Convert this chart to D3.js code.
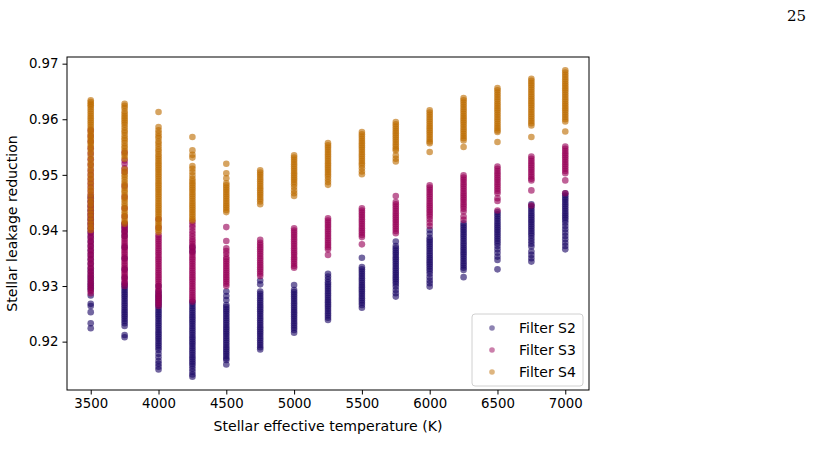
<!DOCTYPE html>
<html lang="en">
  <head>
    <meta charset="utf-8" />
    <title>Stellar leakage reduction</title>
    <script src="https://d3js.org/d3.v7.min.js"></script>
    <style>
      body {
        margin: 0;
        background: white;
      }
      text {
        font-family: "DejaVu Sans", sans-serif;
        fill: black;
      }
      .axis path,
      .axis line {
        stroke: black;
        stroke-width: 1;
      }
      .frame {
        fill: none;
        stroke: black;
        stroke-width: 1;
      }
      .pageno {
        font-family: "DejaVu Serif", "Liberation Serif", serif;
      }
    </style>
  </head>
  <body>
    <div id="chart"></div>
    <script>
      let width = 813;
      let height = 469;

      // Temperatures of the grid (K)
      let temps = [3500, 3750, 4000, 4250, 4500, 4750, 5000, 5250, 5500, 5750, 6000, 6250, 6500, 6750, 7000];

      // Filter S2 - one list of read values per temperature
      let s2Values = [
        [0.9460,0.9452,0.9444,0.9436,0.9428,0.9420,0.9412,0.9404,0.9396,0.9388,0.9380,0.9372,0.9364,0.9356,0.9348,0.9340,0.9332,0.9326,0.9320,0.9315,0.9310,0.9305,0.9301,0.9297,0.9293,0.9283,0.9268,0.9264,0.9253,0.9233,0.9224],
        [0.9412,0.9405,0.9398,0.9390,0.9370,0.9350,0.9330,0.9315,0.9305,0.9301,0.9297,0.9293,0.9289,0.9285,0.9281,0.9277,0.9273,0.9269,0.9265,0.9261,0.9257,0.9253,0.9249,0.9245,0.9241,0.9237,0.9233,0.9228,0.9212,0.9208],
        [0.9300,0.9290,0.9285,0.9281,0.9277,0.9273,0.9269,0.9265,0.9261,0.9257,0.9253,0.9249,0.9245,0.9241,0.9237,0.9233,0.9229,0.9225,0.9221,0.9217,0.9213,0.9209,0.9205,0.9201,0.9197,0.9193,0.9189,0.9185,0.9178,0.9172,0.9165,0.9160,0.9155,0.9150],
        [0.9370,0.9362,0.9272,0.9268,0.9264,0.9260,0.9256,0.9252,0.9248,0.9244,0.9240,0.9236,0.9232,0.9228,0.9224,0.9220,0.9216,0.9212,0.9208,0.9204,0.9200,0.9196,0.9192,0.9188,0.9184,0.9180,0.9176,0.9172,0.9168,0.9164,0.9160,0.9156,0.9151,0.9146,0.9141,0.9137],
        [0.9290,0.9282,0.9275,0.9266,0.9262,0.9258,0.9254,0.9250,0.9246,0.9242,0.9238,0.9234,0.9230,0.9226,0.9222,0.9218,0.9214,0.9210,0.9206,0.9202,0.9198,0.9194,0.9190,0.9186,0.9182,0.9178,0.9174,0.9170,0.9167,0.9159],
        [0.9310,0.9303,0.9290,0.9286,0.9282,0.9278,0.9274,0.9270,0.9266,0.9262,0.9258,0.9254,0.9250,0.9246,0.9242,0.9238,0.9234,0.9230,0.9226,0.9222,0.9218,0.9214,0.9210,0.9206,0.9202,0.9198,0.9194,0.9190,0.9186],
        [0.9302,0.9293,0.9289,0.9285,0.9281,0.9277,0.9273,0.9269,0.9265,0.9261,0.9257,0.9253,0.9249,0.9245,0.9241,0.9237,0.9233,0.9229,0.9225,0.9221,0.9216],
        [0.9322,0.9317,0.9312,0.9307,0.9303,0.9299,0.9295,0.9291,0.9287,0.9283,0.9279,0.9275,0.9271,0.9267,0.9263,0.9259,0.9255,0.9251,0.9247,0.9243,0.9239],
        [0.9351,0.9334,0.9330,0.9326,0.9322,0.9318,0.9314,0.9310,0.9306,0.9302,0.9298,0.9294,0.9290,0.9286,0.9282,0.9278,0.9274,0.9270,0.9266,0.9261],
        [0.9380,0.9372,0.9368,0.9364,0.9360,0.9356,0.9352,0.9348,0.9344,0.9340,0.9336,0.9332,0.9328,0.9324,0.9320,0.9316,0.9312,0.9308,0.9304,0.9299,0.9293,0.9287,0.9281],
        [0.9401,0.9394,0.9387,0.9383,0.9379,0.9375,0.9371,0.9367,0.9363,0.9359,0.9355,0.9351,0.9347,0.9343,0.9339,0.9335,0.9331,0.9327,0.9322,0.9316,0.9310,0.9305,0.9299],
        [0.9413,0.9409,0.9405,0.9401,0.9397,0.9393,0.9389,0.9385,0.9381,0.9377,0.9373,0.9369,0.9365,0.9361,0.9357,0.9353,0.9349,0.9345,0.9341,0.9337,0.9333,0.9329,0.9316],
        [0.9433,0.9429,0.9425,0.9421,0.9417,0.9413,0.9409,0.9405,0.9401,0.9397,0.9393,0.9389,0.9385,0.9381,0.9377,0.9372,0.9366,0.9360,0.9353,0.9347,0.9330],
        [0.9447,0.9443,0.9439,0.9435,0.9431,0.9427,0.9423,0.9419,0.9415,0.9411,0.9407,0.9403,0.9399,0.9395,0.9391,0.9386,0.9381,0.9376,0.9371,0.9362,0.9356,0.9350,0.9344],
        [0.9467,0.9463,0.9459,0.9455,0.9451,0.9447,0.9443,0.9439,0.9435,0.9431,0.9427,0.9423,0.9419,0.9414,0.9408,0.9402,0.9396,0.9390,0.9384,0.9378,0.9372,0.9366],
      ];

      // Filter S3
      let s3Values = [
        [0.9580,0.9570,0.9560,0.9548,0.9538,0.9528,0.9518,0.9508,0.9500,0.9492,0.9485,0.9478,0.9471,0.9464,0.9458,0.9452,0.9446,0.9441,0.9436,0.9431,0.9426,0.9421,0.9416,0.9411,0.9406,0.9401,0.9396,0.9391,0.9386,0.9381,0.9376,0.9371,0.9366,0.9361,0.9356,0.9351,0.9346,0.9341,0.9336,0.9331,0.9326,0.9321,0.9316,0.9311,0.9306,0.9301,0.9296,0.9291,0.9287],
        [0.9540,0.9526,0.9520,0.9512,0.9505,0.9480,0.9460,0.9440,0.9425,0.9413,0.9409,0.9405,0.9401,0.9397,0.9393,0.9389,0.9385,0.9381,0.9377,0.9373,0.9369,0.9365,0.9361,0.9357,0.9353,0.9349,0.9345,0.9341,0.9337,0.9333,0.9329,0.9325,0.9321,0.9317,0.9313,0.9309,0.9305,0.9300],
        [0.9420,0.9405,0.9392,0.9388,0.9384,0.9380,0.9376,0.9372,0.9368,0.9364,0.9360,0.9356,0.9352,0.9348,0.9344,0.9340,0.9336,0.9332,0.9328,0.9324,0.9320,0.9316,0.9312,0.9308,0.9304,0.9300,0.9296,0.9292,0.9288,0.9284,0.9280,0.9276,0.9272,0.9268,0.9264],
        [0.9415,0.9410,0.9405,0.9399,0.9394,0.9389,0.9384,0.9380,0.9376,0.9372,0.9368,0.9364,0.9360,0.9356,0.9352,0.9348,0.9344,0.9340,0.9336,0.9332,0.9328,0.9324,0.9320,0.9316,0.9312,0.9308,0.9304,0.9300,0.9296,0.9292,0.9288,0.9284,0.9280,0.9276,0.9272],
        [0.9406,0.9381,0.9368,0.9363,0.9358,0.9352,0.9348,0.9344,0.9340,0.9336,0.9332,0.9328,0.9324,0.9320,0.9316,0.9312,0.9308,0.9304,0.9300],
        [0.9383,0.9378,0.9374,0.9370,0.9366,0.9362,0.9358,0.9354,0.9350,0.9346,0.9342,0.9338,0.9334,0.9330,0.9326,0.9322,0.9318],
        [0.9404,0.9400,0.9396,0.9392,0.9388,0.9384,0.9380,0.9376,0.9372,0.9368,0.9364,0.9360,0.9356,0.9352,0.9348,0.9344,0.9340,0.9336,0.9333],
        [0.9422,0.9418,0.9414,0.9410,0.9406,0.9402,0.9398,0.9394,0.9390,0.9386,0.9382,0.9378,0.9374,0.9370,0.9366,0.9356],
        [0.9440,0.9436,0.9432,0.9428,0.9424,0.9420,0.9416,0.9412,0.9408,0.9404,0.9400,0.9396,0.9392,0.9388,0.9375],
        [0.9462,0.9451,0.9447,0.9443,0.9439,0.9435,0.9431,0.9427,0.9423,0.9419,0.9415,0.9411,0.9407,0.9403,0.9399,0.9395],
        [0.9481,0.9477,0.9473,0.9469,0.9465,0.9461,0.9457,0.9453,0.9449,0.9445,0.9441,0.9437,0.9433,0.9429,0.9425,0.9420,0.9414,0.9408],
        [0.9499,0.9495,0.9491,0.9487,0.9483,0.9479,0.9475,0.9471,0.9467,0.9463,0.9459,0.9455,0.9451,0.9447,0.9443,0.9439,0.9434,0.9425,0.9419],
        [0.9515,0.9511,0.9507,0.9503,0.9499,0.9495,0.9491,0.9487,0.9483,0.9479,0.9475,0.9471,0.9467,0.9458,0.9453,0.9436],
        [0.9533,0.9529,0.9525,0.9521,0.9517,0.9513,0.9509,0.9505,0.9501,0.9497,0.9493,0.9490,0.9472,0.9445],
        [0.9551,0.9547,0.9543,0.9539,0.9535,0.9531,0.9527,0.9523,0.9519,0.9515,0.9511,0.9507,0.9503,0.9490,0.9467],
      ];

      // Filter S4
      let s4Values = [
        [0.9634,0.9631,0.9628,0.9625,0.9622,0.9618,0.9614,0.9610,0.9606,0.9602,0.9598,0.9594,0.9590,0.9586,0.9582,0.9578,0.9574,0.9570,0.9566,0.9562,0.9558,0.9554,0.9550,0.9545,0.9540,0.9534,0.9528,0.9522,0.9517,0.9511,0.9505,0.9499,0.9494,0.9488,0.9482,0.9476,0.9471,0.9465,0.9459,0.9453,0.9448,0.9442,0.9436,0.9430,0.9424,0.9418,0.9412,0.9406,0.9401],
        [0.9628,0.9624,0.9620,0.9614,0.9610,0.9606,0.9602,0.9598,0.9594,0.9590,0.9585,0.9580,0.9576,0.9571,0.9566,0.9562,0.9557,0.9552,0.9548,0.9543,0.9538,0.9534,0.9529,0.9510,0.9505,0.9500,0.9496,0.9491,0.9486,0.9482,0.9477,0.9472,0.9468,0.9463,0.9458,0.9454,0.9449,0.9444,0.9440,0.9435,0.9430,0.9426,0.9421,0.9416,0.9412],
        [0.9613,0.9586,0.9580,0.9575,0.9570,0.9566,0.9560,0.9556,0.9551,0.9546,0.9542,0.9537,0.9533,0.9529,0.9525,0.9521,0.9517,0.9513,0.9509,0.9505,0.9501,0.9497,0.9493,0.9489,0.9485,0.9481,0.9477,0.9473,0.9469,0.9465,0.9461,0.9457,0.9453,0.9449,0.9445,0.9441,0.9437,0.9433,0.9429,0.9425,0.9421,0.9417,0.9413,0.9409,0.9405,0.9401,0.9397],
        [0.9568,0.9544,0.9536,0.9531,0.9516,0.9511,0.9505,0.9499,0.9493,0.9489,0.9485,0.9481,0.9477,0.9473,0.9469,0.9465,0.9461,0.9457,0.9453,0.9449,0.9445,0.9441,0.9437,0.9433,0.9429,0.9425,0.9421,0.9418],
        [0.9520,0.9503,0.9494,0.9485,0.9481,0.9477,0.9473,0.9469,0.9465,0.9461,0.9457,0.9453,0.9449,0.9445,0.9441,0.9437,0.9433],
        [0.9508,0.9504,0.9500,0.9496,0.9492,0.9488,0.9484,0.9480,0.9476,0.9472,0.9468,0.9464,0.9460,0.9456,0.9452,0.9447],
        [0.9535,0.9531,0.9527,0.9523,0.9519,0.9515,0.9511,0.9507,0.9503,0.9499,0.9495,0.9491,0.9487,0.9483,0.9478,0.9472,0.9467,0.9462],
        [0.9557,0.9553,0.9549,0.9545,0.9541,0.9537,0.9533,0.9529,0.9525,0.9521,0.9517,0.9513,0.9509,0.9505,0.9501,0.9497,0.9492,0.9487,0.9482],
        [0.9577,0.9573,0.9569,0.9565,0.9561,0.9557,0.9553,0.9549,0.9545,0.9541,0.9537,0.9533,0.9529,0.9525,0.9521,0.9517,0.9512,0.9506,0.9501],
        [0.9595,0.9591,0.9587,0.9583,0.9579,0.9575,0.9571,0.9567,0.9563,0.9559,0.9555,0.9551,0.9547,0.9544,0.9535,0.9529,0.9524],
        [0.9616,0.9612,0.9608,0.9604,0.9600,0.9596,0.9592,0.9588,0.9584,0.9580,0.9576,0.9572,0.9568,0.9564,0.9560,0.9557,0.9541],
        [0.9638,0.9634,0.9630,0.9626,0.9622,0.9618,0.9614,0.9610,0.9606,0.9602,0.9598,0.9594,0.9590,0.9586,0.9582,0.9578,0.9574,0.9570,0.9566,0.9562,0.9550],
        [0.9656,0.9652,0.9648,0.9644,0.9640,0.9636,0.9632,0.9628,0.9624,0.9620,0.9616,0.9612,0.9608,0.9604,0.9600,0.9596,0.9592,0.9588,0.9584,0.9580,0.9577,0.9559],
        [0.9673,0.9669,0.9665,0.9661,0.9657,0.9653,0.9649,0.9645,0.9641,0.9637,0.9633,0.9629,0.9625,0.9621,0.9617,0.9613,0.9609,0.9605,0.9601,0.9597,0.9593,0.9589,0.9568],
        [0.9688,0.9684,0.9680,0.9676,0.9672,0.9668,0.9664,0.9660,0.9656,0.9652,0.9648,0.9644,0.9640,0.9636,0.9632,0.9628,0.9624,0.9620,0.9616,0.9612,0.9608,0.9604,0.9600,0.9596,0.9578],
      ];

      let seriesNames = ["Filter S2", "Filter S3", "Filter S4"];
      let seriesColors = ["#1b0866", "#970057", "#bd6c00"];
      let xTicks = [3500, 4000, 4500, 5000, 5500, 6000, 6500, 7000];
      let yTicks = [0.92, 0.93, 0.94, 0.95, 0.96, 0.97];

      // Plot box (matches the figure's axes)
      let plotLeft = 67, plotTop = 57, plotRight = 589, plotBottom = 390;

      let svg = d3
        .select("#chart")
        .append("svg")
        .attr("width", width)
        .attr("height", height);

      let x = d3.scaleLinear().domain([3325, 7175]).range([plotLeft, plotRight]);
      let y = d3.scaleLinear().domain([0.9113, 0.9712]).range([plotBottom, plotTop]);

      // Flatten into points, S2 first so S4 ends up on top
      let allSeries = [s2Values, s3Values, s4Values];
      let points = [];
      allSeries.forEach(function (series, si) {
        series.forEach(function (list, ti) {
          list.forEach(function (v) {
            points.push({ s: si, t: temps[ti], v: v });
          });
        });
      });

      svg
        .append("g")
        .selectAll("circle")
        .data(points)
        .enter()
        .append("circle")
        .attr("cx", function (d) {
          return x(d.t);
        })
        .attr("cy", function (d) {
          return y(d.v);
        })
        .attr("r", 3.3)
        .attr("fill", function (d) {
          return seriesColors[d.s];
        })
        .attr("fill-opacity", 0.62);

      // Axes
      let xAxis = svg
        .append("g")
        .attr("class", "axis")
        .attr("transform", "translate(0," + plotBottom + ")")
        .call(d3.axisBottom(x).tickValues(xTicks).tickSize(4.5).tickPadding(4).tickFormat(d3.format("d")));
      xAxis.select(".domain").remove();
      xAxis.selectAll("text").attr("font-size", 13.3).attr("font-family", "DejaVu Sans");

      let yAxis = svg
        .append("g")
        .attr("class", "axis")
        .attr("transform", "translate(" + plotLeft + ",0)")
        .call(d3.axisLeft(y).tickValues(yTicks).tickSize(4.5).tickPadding(4).tickFormat(d3.format(".2f")));
      yAxis.select(".domain").remove();
      yAxis.selectAll("text").attr("font-size", 13.3).attr("font-family", "DejaVu Sans");

      svg
        .append("rect")
        .attr("class", "frame")
        .attr("x", plotLeft)
        .attr("y", plotTop)
        .attr("width", plotRight - plotLeft)
        .attr("height", plotBottom - plotTop);

      // Axis labels
      svg
        .append("text")
        .attr("x", (plotLeft + plotRight) / 2)
        .attr("y", 431)
        .attr("text-anchor", "middle")
        .attr("font-size", 14.1)
        .text("Stellar effective temperature (K)");

      svg
        .append("text")
        .attr("transform", "translate(17," + (plotTop + plotBottom) / 2 + ") rotate(-90)")
        .attr("text-anchor", "middle")
        .attr("font-size", 14.1)
        .text("Stellar leakage reduction");

      // Legend
      let legend = svg.append("g").attr("transform", "translate(472,314)");
      legend
        .append("rect")
        .attr("width", 111)
        .attr("height", 72)
        .attr("rx", 3)
        .attr("fill", "white")
        .attr("fill-opacity", 0.8)
        .attr("stroke", "#d0d0d0");
      seriesNames.forEach(function (name, i) {
        let row = legend.append("g").attr("transform", "translate(0," + (14 + i * 22) + ")");
        row
          .append("circle")
          .attr("cx", 20)
          .attr("cy", 0)
          .attr("r", 2.8)
          .attr("fill", seriesColors[i])
          .attr("fill-opacity", 0.5);
        row
          .append("text")
          .attr("x", 47)
          .attr("y", 5)
          .attr("font-size", 14)
          .text(name);
      });

      // Page number
      svg
        .append("text")
        .attr("class", "pageno")
        .attr("x", 806)
        .attr("y", 21)
        .attr("text-anchor", "end")
        .attr("font-size", 15)
        .text("25");
    </script>
  </body>
</html>
